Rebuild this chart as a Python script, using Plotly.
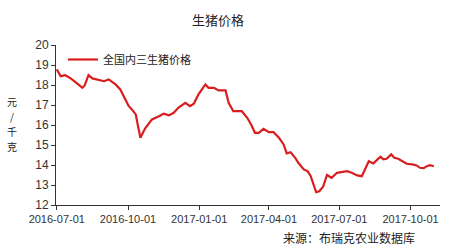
import plotly.graph_objects as go

dates = [
    "2016-07-01", "2016-07-06", "2016-07-12", "2016-07-19", "2016-07-28", "2016-08-03",
    "2016-08-06", "2016-08-11", "2016-08-16", "2016-08-22", "2016-08-31", "2016-09-06",
    "2016-09-15", "2016-09-21", "2016-09-28", "2016-10-02", "2016-10-06", "2016-10-11",
    "2016-10-14", "2016-10-17", "2016-10-23", "2016-11-01", "2016-11-10", "2016-11-16",
    "2016-11-23", "2016-11-29", "2016-12-05", "2016-12-14", "2016-12-20", "2016-12-25",
    "2016-12-31", "2017-01-09", "2017-01-13", "2017-01-20", "2017-01-26", "2017-02-04",
    "2017-02-08", "2017-02-14", "2017-02-25", "2017-03-04", "2017-03-09", "2017-03-14",
    "2017-03-19", "2017-03-25", "2017-04-01", "2017-04-07", "2017-04-14", "2017-04-20",
    "2017-04-24", "2017-04-29", "2017-05-05", "2017-05-09", "2017-05-16", "2017-05-21",
    "2017-05-25", "2017-05-29", "2017-06-01", "2017-06-05", "2017-06-10", "2017-06-15",
    "2017-06-21", "2017-06-28", "2017-07-04", "2017-07-11", "2017-07-17", "2017-07-24",
    "2017-07-30", "2017-08-03", "2017-08-08", "2017-08-14", "2017-08-19", "2017-08-23",
    "2017-08-27", "2017-08-31", "2017-09-06", "2017-09-10", "2017-09-15", "2017-09-20",
    "2017-09-26", "2017-10-03", "2017-10-09", "2017-10-13", "2017-10-18", "2017-10-22",
    "2017-10-26", "2017-10-31",
]
prices = [
    18.78, 18.44, 18.49, 18.33, 18.06, 17.86,
    17.98, 18.49, 18.33, 18.28, 18.19, 18.28,
    18.03, 17.78, 17.28, 16.94, 16.78, 16.53,
    15.94, 15.36, 15.82, 16.28, 16.44, 16.56,
    16.48, 16.61, 16.86, 17.11, 16.94, 17.06,
    17.53, 18.03, 17.86, 17.86, 17.73, 17.73,
    17.11, 16.69, 16.69, 16.36, 16.03, 15.61,
    15.61, 15.81, 15.64, 15.64, 15.36, 15.03,
    14.58, 14.64, 14.36, 14.11, 13.78, 13.69,
    13.44, 12.94, 12.64, 12.69, 12.91, 13.50,
    13.36, 13.61, 13.66, 13.69, 13.61, 13.48,
    13.44, 13.78, 14.19, 14.08, 14.28, 14.41,
    14.28, 14.31, 14.53, 14.36, 14.31, 14.19,
    14.06, 14.03, 13.98, 13.86, 13.84, 13.94,
    13.99, 13.94,
]
series_name = "全国内三生猪价格"
title_text = "生猪价格"
y_unit = "元/千克"
source_text = "来源：布瑞克农业数据库"
x_ticks = ["2016-07-01", "2016-10-01", "2017-01-01", "2017-04-01", "2017-07-01", "2017-10-01"]
y_ticks = [12, 13, 14, 15, 16, 17, 18, 19, 20]

FONT = "Liberation Sans, Arial, Noto Sans CJK SC, sans-serif"
CJK = "Noto Sans CJK SC, sans-serif"

PLOT_L, PLOT_W, PLOT_B, PLOT_H = 56, 384, 205, 160

fig = go.Figure()
fig.add_trace(go.Scatter(
    x=dates, y=prices, mode="lines", name=series_name,
    line=dict(color="#d81e1e", width=2.2),
))

annotations = []
# stacked vertical unit label, one character per annotation
unit_centers = [101, 116, 131, 146]
for ch, yc in zip(list(y_unit), unit_centers):
    annotations.append(dict(
        text=ch, xref="paper", yref="paper",
        x=(12 - PLOT_L) / PLOT_W, y=(PLOT_B - yc) / PLOT_H,
        xanchor="center", yanchor="middle", showarrow=False, borderpad=0,
        font=dict(family=CJK, size=10, color="#222222"),
    ))
annotations.append(dict(
    text=source_text, xref="paper", yref="paper",
    x=(417 - PLOT_L) / PLOT_W, y=(PLOT_B - 237) / PLOT_H,
    xanchor="right", yanchor="middle", showarrow=False,
    font=dict(family=CJK, size=12, color="#222222"),
))

fig.update_layout(
    width=450, height=251,
    margin=dict(l=56, r=10, t=45, b=46),
    paper_bgcolor="white", plot_bgcolor="white",
    font=dict(family=FONT, size=11, color="#333333"),
    title=dict(text=title_text, x=218/450, xanchor="center", y=1 - 20/251, yanchor="middle",
               font=dict(family=CJK, size=13, color="#222222")),
    showlegend=True,
    legend=dict(x=0.018, y=1.0, xanchor="left", yanchor="top",
                bgcolor="rgba(0,0,0,0)", font=dict(family=CJK, size=11, color="#222222"),
                itemwidth=30),
    xaxis=dict(
        type="date", range=["2016-06-30", "2017-11-08"],
        tickvals=x_ticks, ticktext=x_ticks,
        showgrid=False, zeroline=False,
        showline=True, linecolor="#333333", linewidth=1,
        ticks="outside", ticklen=4, tickcolor="#333333",
        tickfont=dict(size=11, color="#333333"),
    ),
    yaxis=dict(
        range=[12, 20], tickvals=y_ticks,
        showgrid=False, zeroline=False,
        showline=True, linecolor="#333333", linewidth=1,
        ticks="outside", ticklen=4, tickcolor="#333333",
        tickfont=dict(size=12, color="#333333"),
    ),
    annotations=annotations,
)

fig.write_html("out.html")
